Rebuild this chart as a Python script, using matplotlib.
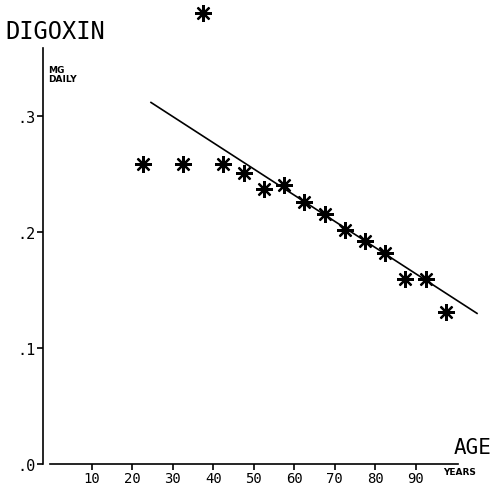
import matplotlib
matplotlib.use("Agg")
from matplotlib import pyplot as plt

# digoxin daily dose (mg) by age group
ages = [22.5, 32.5, 37.5, 42.5, 47.5, 52.5, 57.5, 62.5, 67.5, 72.5, 77.5, 82.5, 87.5, 92.5, 97.5]
dose = [0.259, 0.259, 0.389, 0.259, 0.251, 0.237, 0.241, 0.226, 0.216, 0.202, 0.1925, 0.1825, 0.160, 0.1595, 0.1316]

# fitted trend line end points
fit_age = [24.6, 105.2]
fit_dose = [0.312, 0.130]

xticks = [10, 20, 30, 40, 50, 60, 70, 80, 90]
yticks = [0.0, 0.1, 0.2, 0.3]
ylabels = ['.0', '.1', '.2', '.3']

MONO = 'DejaVu Sans Mono'

fig = plt.figure(figsize=(4.95, 4.85), dpi=100)
ax = fig.add_axes([43 / 495, 20 / 485, 415 / 495, 416 / 485])
ax.set_xlim(-2.1, 100.5)
ax.set_ylim(0, 0.359)

ax.plot(fit_age, fit_dose, color='black', lw=1.2, clip_on=False)
ax.plot(ages, dose, ls='none', marker=(8, 2, 0), ms=12, mew=1.6,
        color='black', clip_on=False)
ax.plot(ages, dose, ls='none', marker='o', ms=4, color='black', clip_on=False)

for s in ['top', 'right']:
    ax.spines[s].set_visible(False)
ax.spines['left'].set_linewidth(1.2)
ax.spines['bottom'].set_linewidth(1.2)
ax.spines['bottom'].set_bounds(-0.4, 100.5)

ax.set_xticks(xticks)
ax.set_xticklabels([str(t) for t in xticks], family=MONO, fontsize=10)
ax.set_yticks(yticks)
ax.set_yticklabels(ylabels, family=MONO, fontsize=11)
ax.tick_params(axis='both', direction='out', length=4, width=1.2, pad=1)

fig.text(5 / 495, 1 - 32 / 485, 'DIGOXIN', family=MONO, fontsize=17,
         va='center', ha='left')
fig.text(48 / 495, 1 - 75 / 485, 'MG\nDAILY', family='DejaVu Sans',
         fontsize=6.5, fontweight='bold', va='center', ha='left', linespacing=1.1)
fig.text(492 / 495, 1 - 448 / 485, 'AGE', family=MONO, fontsize=15,
         va='center', ha='right')
fig.text(460 / 495, 1 - 473 / 485, 'YEARS', family='DejaVu Sans',
         fontsize=6.5, fontweight='bold', va='center', ha='center')

fig.savefig('out.png', dpi=100)
